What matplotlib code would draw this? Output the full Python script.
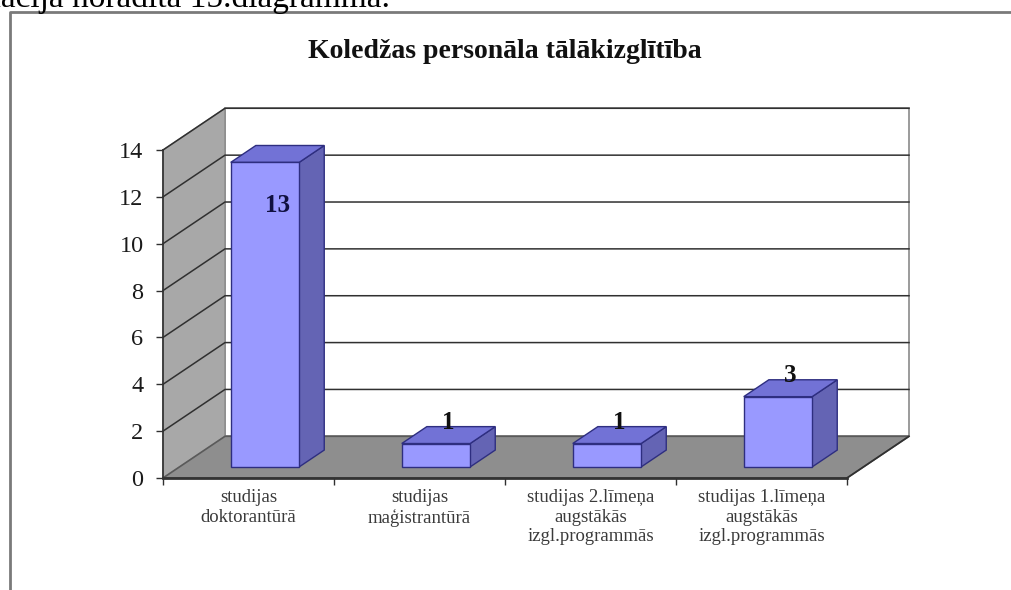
import matplotlib
matplotlib.use("Agg")
import matplotlib.pyplot as plt
from matplotlib.patches import Polygon

# ---- data ----
title = "Koledžas personāla tālākizglītība"
categories = ["studijas\ndoktorantūrā",
              "studijas\nmaģistrantūrā",
              "studijas 2.līmeņa\naugstākās\nizgl.programmās",
              "studijas 1.līmeņa\naugstākās\nizgl.programmās"]
values = [13, 1, 1, 3]
yticks = [0, 2, 4, 6, 8, 10, 12, 14]
header_text = "informācija norādīta 15.diagrammā."

plt.rcParams['font.family'] = ['Liberation Serif', 'DejaVu Serif']

W, H = 1011, 590
fig = plt.figure(figsize=(W / 100, H / 100), dpi=100)
fig.patch.set_facecolor('white')

# background overlay in pixel coords (frame + cut-off page text)
bg = fig.add_axes([0, 0, 1, 1])
bg.set_xlim(0, W)
bg.set_ylim(H, 0)
bg.axis('off')
bg.plot([9.5, 9.5, W + 2], [H + 2, 12, 12], color='#7a7a7a', lw=2, solid_capstyle='butt')
bg.text(390, 7, header_text, fontsize=24, ha='right', va='baseline', color='black')
bg.text(505, 51, title, fontsize=20, fontweight='bold', ha='center', va='center', color='#111111')

# main axes: front plane, x in category units, y in value units
x0, x1, yb, yt = 163, 847, 478, 150
ax = fig.add_axes([x0 / W, (H - yb) / H, (x1 - x0) / W, (yb - yt) / H])
ax.set_xlim(0, len(values))
ax.set_ylim(0, 14)
ax.patch.set_visible(False)

# depth offsets (oblique projection), in data units for full depth
DX = 62 / ((x1 - x0) / len(values))
DY = 41.7 / ((yb - yt) / 14)

def P(x, v, d):
    return (x + d * DX, v + d * DY)

n = len(values)
top = 14
# back wall
ax.add_patch(Polygon([P(0, 0, 1), P(n, 0, 1), P(n, top, 1), P(0, top, 1)], closed=True,
                     facecolor='white', edgecolor='#8a8a8a', lw=1.2, zorder=1, clip_on=False))
# left wall
ax.add_patch(Polygon([P(0, 0, 0), P(0, 0, 1), P(0, top, 1), P(0, top, 0)], closed=True,
                     facecolor='#a8a8a8', edgecolor='#8a8a8a', lw=1, zorder=1, clip_on=False))
# gridlines
for v in yticks[1:]:
    (ax1, ay1), (ax2, ay2) = P(0, v, 0), P(0, v, 1)
    (bx2, by2) = P(n, v, 1)
    ax.plot([ax1, ax2, bx2], [ay1, ay2, by2], color='#303030', lw=1.1, zorder=1.5, clip_on=False)
# floor
ax.add_patch(Polygon([P(0, 0, 0), P(n, 0, 0), P(n, 0, 1), P(0, 0, 1)], closed=True,
                     facecolor='#8e8e8e', edgecolor='#5a5a5a', lw=1.2, zorder=2, clip_on=False))

# bars
d0, d1 = 0.265, 0.67
bw = 0.40
front_c, top_c, side_c, edge_c = '#9999ff', '#7272d6', '#6464b4', '#2e2e80'
for i, v in enumerate(values):
    xl, xr = i + 0.5 - bw / 2, i + 0.5 + bw / 2
    side = [P(xr, 0, d0), P(xr, 0, d1), P(xr, v, d1), P(xr, v, d0)]
    topf = [P(xl, v, d0), P(xr, v, d0), P(xr, v, d1), P(xl, v, d1)]
    front = [P(xl, 0, d0), P(xr, 0, d0), P(xr, v, d0), P(xl, v, d0)]
    for poly, fc in ((side, side_c), (topf, top_c), (front, front_c)):
        ax.add_patch(Polygon(poly, closed=True, facecolor=fc, edgecolor=edge_c,
                             lw=1.0, zorder=4, joinstyle='miter', clip_on=False))
    dm = (d0 + d1) / 2
    if v > 12:
        lx, ly = P(i + 0.5, v - 2.2, dm)
        ax.text(lx, ly, str(v), fontsize=18, fontweight='bold', ha='center', va='center',
                color='#101040', zorder=6)
    else:
        lx, ly = P(i + 0.5, v + 0.55, dm)
        ax.text(lx, ly, str(v), fontsize=18, fontweight='bold', ha='center', va='center',
                color='#101010', zorder=6)

# right floor edge
ax.plot(*zip(P(n, 0, 0), P(n, 0, 1)), color='#303030', lw=1.2, zorder=2.2, clip_on=False)

# spines / ticks
for s in ('top', 'right'):
    ax.spines[s].set_visible(False)
ax.spines['left'].set_color('#303030')
ax.spines['left'].set_linewidth(1.2)
ax.spines['bottom'].set_color('#333333')
ax.spines['bottom'].set_linewidth(2.0)
ax.set_yticks(yticks)
ax.set_yticklabels([str(t) for t in yticks])
ax.tick_params(axis='y', length=5, width=1, color='#303030', pad=9, labelsize=17.5,
               labelcolor='#1a1a1a')
ax.set_xticks(range(n + 1))
ax.set_xticklabels([])
ax.tick_params(axis='x', which='major', length=5, width=1, color='#303030', direction='out')
ax.set_xticks([i + 0.5 for i in range(n)], minor=True)
ax.set_xticklabels(categories, minor=True, fontsize=13.5, color='#3a3a3a', linespacing=1.2)
ax.tick_params(axis='x', which='minor', length=0, pad=8)

fig.savefig('out.png', dpi=100, facecolor='white')
